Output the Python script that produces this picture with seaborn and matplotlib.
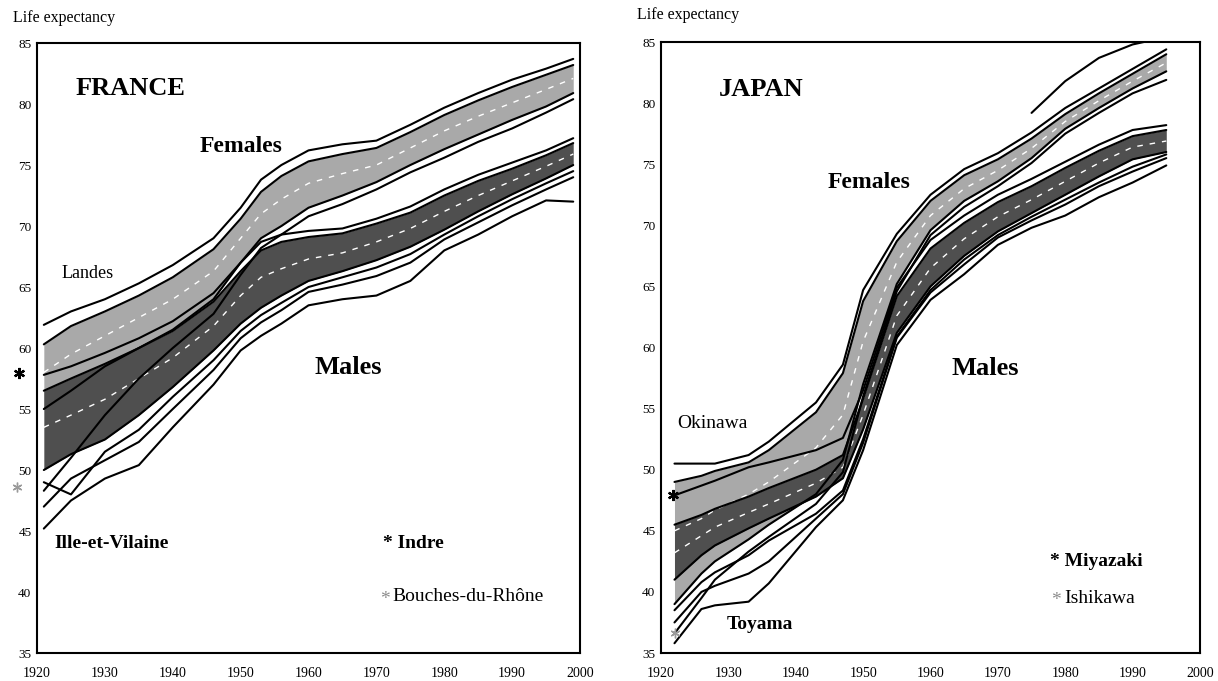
import pandas as pd
import matplotlib
matplotlib.use("Agg")
import matplotlib.pyplot as plt
import seaborn as sns

# ---------------- France: départements, period life expectancy ----------------
years_fr = [1921, 1925, 1930, 1935, 1940, 1946, 1950, 1953, 1956, 1960,
            1965, 1970, 1975, 1980, 1985, 1990, 1995, 1999]
# females
fr_f_top = [61.9, 63.0, 64.0, 65.3, 66.8, 69.0, 71.5, 73.8, 75.0, 76.2,
            76.7, 77.0, 78.3, 79.7, 80.9, 82.0, 82.9, 83.7]   # Landes
fr_f_hi = [60.3, 61.8, 63.0, 64.3, 65.8, 68.1, 70.6, 72.8, 74.1, 75.3,
           75.9, 76.4, 77.7, 79.1, 80.3, 81.4, 82.4, 83.2]
fr_f_mid = [58.0, 59.5, 61.0, 62.5, 64.0, 66.3, 69.0, 71.0, 72.2, 73.5,
            74.3, 75.0, 76.4, 77.8, 79.0, 80.1, 81.2, 82.1]
fr_f_lo = [55.0, 56.5, 58.5, 60.0, 61.5, 64.0, 67.0, 69.0, 70.0, 71.5,
           72.5, 73.6, 75.0, 76.3, 77.5, 78.7, 79.8, 80.9]
fr_f_bot = [48.3, 51.0, 54.5, 57.5, 60.0, 62.8, 66.0, 68.2, 69.3, 70.8,
            71.8, 73.0, 74.4, 75.6, 76.9, 78.0, 79.3, 80.4]   # Bouches-du-Rhône
# males
fr_m_top = [57.8, 58.5, 59.6, 60.8, 62.2, 64.5, 67.0, 68.7, 69.3, 69.6,
            69.8, 70.6, 71.6, 73.0, 74.2, 75.2, 76.2, 77.2]   # Indre
fr_m_hi = [56.5, 57.5, 58.7, 60.0, 61.4, 63.8, 66.3, 68.0, 68.7, 69.1,
           69.4, 70.2, 71.1, 72.5, 73.7, 74.7, 75.8, 76.8]
fr_m_mid = [53.5, 54.5, 55.8, 57.5, 59.2, 61.8, 64.3, 65.8, 66.5, 67.3,
            67.8, 68.7, 69.8, 71.2, 72.5, 73.7, 74.9, 75.9]
fr_m_lo = [50.0, 51.3, 52.5, 54.5, 56.8, 59.8, 62.0, 63.3, 64.3, 65.5,
           66.3, 67.2, 68.3, 69.7, 71.2, 72.6, 73.9, 75.0]
fr_m_low2 = [49.0, 48.0, 51.5, 53.3, 56.0, 59.0, 61.4, 62.7, 63.7, 65.0,
             65.8, 66.6, 67.7, 69.3, 70.8, 72.2, 73.5, 74.5]
fr_m_low3 = [47.0, 49.3, 50.8, 52.3, 55.0, 58.2, 60.8, 62.1, 63.1, 64.6,
             65.2, 65.9, 67.0, 68.9, 70.3, 71.7, 73.0, 74.0]
fr_m_bot = [45.2, 47.5, 49.3, 50.4, 53.5, 57.0, 59.8, 61.0, 62.0, 63.5,
            64.0, 64.3, 65.5, 68.0, 69.3, 70.8, 72.1, 72.0]   # Ille-et-Vilaine

# ---------------- Japan: prefectures ----------------
years_jp = [1922, 1926, 1928, 1933, 1936, 1943, 1947, 1950, 1955, 1960,
            1965, 1970, 1975, 1980, 1985, 1990, 1995]
# females
jp_f_top = [50.5, 50.5, 50.5, 51.2, 52.3, 55.5, 58.6, 64.7, 69.3, 72.5,
            74.6, 75.9, 77.6, 79.6, 81.2, 82.8, 84.4]
jp_f_hi = [49.0, 49.5, 49.9, 50.6, 51.6, 54.7, 57.9, 63.8, 68.7, 72.0,
           74.1, 75.4, 77.1, 79.1, 80.8, 82.4, 84.0]
jp_f_mid = [45.0, 46.0, 46.7, 48.0, 49.0, 51.8, 54.5, 60.5, 67.0, 70.8,
            73.0, 74.5, 76.3, 78.5, 80.2, 81.8, 83.3]
jp_f_lo = [39.0, 41.5, 42.5, 44.3, 45.5, 48.0, 50.8, 57.0, 65.2, 69.6,
           72.0, 73.6, 75.5, 77.9, 79.6, 81.2, 82.6]
jp_f_bot = [36.6, 39.5, 41.0, 43.3, 44.5, 47.2, 49.8, 56.0, 64.6, 69.2,
            71.5, 73.2, 75.1, 77.5, 79.2, 80.8, 81.9]           # Ishikawa
years_oki = [1975, 1980, 1985, 1990, 1995]
jp_f_okinawa = [79.2, 81.8, 83.7, 84.8, 85.4]
# males
jp_m_top = [47.9, 48.7, 49.1, 50.2, 50.6, 51.6, 52.6, 56.5, 64.9, 68.8,
            70.8, 72.5, 73.8, 75.2, 76.6, 77.8, 78.2]           # Miyazaki
jp_m_hi = [45.5, 46.3, 46.8, 47.8, 48.5, 50.0, 51.2, 55.8, 64.2, 68.1,
           70.2, 71.9, 73.2, 74.7, 76.1, 77.3, 77.8]
jp_m_mid = [43.2, 44.6, 45.3, 46.5, 47.2, 48.9, 50.2, 54.5, 62.6, 66.5,
            68.9, 70.7, 72.1, 73.6, 75.1, 76.4, 76.9]
jp_m_lo = [41.0, 43.0, 43.8, 45.2, 46.0, 47.8, 49.3, 53.3, 61.2, 65.0,
           67.5, 69.5, 71.0, 72.5, 74.0, 75.4, 76.0]
jp_m_low2 = [38.5, 40.8, 41.6, 43.0, 44.2, 46.4, 48.3, 52.5, 60.9, 64.7,
             67.2, 69.2, 70.7, 72.1, 73.5, 74.8, 75.8]
jp_m_low3 = [37.5, 40.0, 40.5, 41.5, 42.5, 46.0, 48.0, 52.2, 60.8, 64.5,
             66.8, 69.0, 70.4, 71.7, 73.2, 74.4, 75.5]
jp_m_bot = [35.8, 38.6, 38.9, 39.2, 40.7, 45.3, 47.5, 51.6, 60.2, 63.9,
            66.0, 68.4, 69.8, 70.8, 72.3, 73.5, 74.9]           # Toyama

x_ticks = [1920, 1930, 1940, 1950, 1960, 1970, 1980, 1990, 2000]
y_ticks = [35, 40, 45, 50, 55, 60, 65, 70, 75, 80, 85]

FEMALE_GREY = "#a9a9a9"
MALE_GREY = "#4f4f4f"

sns.set_theme(style="white")
plt.rcParams["font.family"] = ["Liberation Serif", "DejaVu Serif"]
plt.rcParams["axes.linewidth"] = 1.5
for key in ("text.color", "axes.labelcolor", "xtick.color", "ytick.color",
            "axes.edgecolor"):
    plt.rcParams[key] = "black"


def long_frame(years, series):
    rows = []
    for name, vals in series.items():
        for yr, v in zip(years, vals):
            rows.append({"year": yr, "e0": v, "series": name})
    return pd.DataFrame(rows)


def draw_band(ax, years, top, hi, mid, lo, bot, extra, fill):
    ax.fill_between(years, lo, hi, color=fill, lw=0, zorder=1)
    return long_frame(years, dict(top=top, hi=hi, lo=lo, bot=bot, **extra)), \
        long_frame(years, dict(mid=mid))


def panel(ax, years, fem, mal, extra_lines=None):
    f_lines, f_mid = draw_band(ax, years, *fem[:5], fem[5], FEMALE_GREY)
    m_lines, m_mid = draw_band(ax, years, *mal[:5], mal[5], MALE_GREY)
    for mids in (f_mid, m_mid):
        sns.lineplot(data=mids, x="year", y="e0", units="series", estimator=None,
                     color="white", lw=1.0, ax=ax, zorder=2,
                     legend=False).lines[-1].set_dashes([4, 5])
    for lines in (f_lines, m_lines):
        sns.lineplot(data=lines, x="year", y="e0", units="series", estimator=None,
                     color="black", lw=1.5, ax=ax, zorder=3, legend=False)
    if extra_lines is not None:
        sns.lineplot(data=extra_lines, x="year", y="e0", units="series",
                     estimator=None, color="black", lw=1.5, ax=ax, zorder=3,
                     legend=False)


def style_axes(ax):
    ax.set_xlim(1920, 2000)
    ax.set_ylim(35, 85)
    ax.set_xticks(x_ticks)
    ax.set_yticks(y_ticks)
    ax.set_xticklabels([str(t) for t in x_ticks], fontsize=10)
    ax.set_yticklabels([str(t) for t in y_ticks], fontsize=9.5)
    ax.tick_params(axis="both", direction="in", length=3, width=1.2,
                   colors="black", labelcolor="black")
    ax.tick_params(axis="x", pad=10)
    ax.tick_params(axis="y", pad=4)
    for sp in ax.spines.values():
        sp.set_color("black")
        sp.set_linewidth(1.5)
    ax.set_xlabel("")
    ax.set_ylabel("")


fig = plt.figure(figsize=(12.18, 6.81), dpi=100)
ax_fr = fig.add_axes([0.0304, 0.0411, 0.4458, 0.8957])
ax_jp = fig.add_axes([0.5427, 0.0411, 0.4425, 0.8972])

# France
panel(ax_fr, years_fr,
      (fr_f_top, fr_f_hi, fr_f_mid, fr_f_lo, fr_f_bot, {}),
      (fr_m_top, fr_m_hi, fr_m_mid, fr_m_lo, fr_m_bot,
       dict(low2=fr_m_low2, low3=fr_m_low3)))
style_axes(ax_fr)

# Japan
oki = pd.DataFrame({"year": years_oki, "e0": jp_f_okinawa, "series": "Okinawa"})
panel(ax_jp, years_jp,
      (jp_f_top, jp_f_hi, jp_f_mid, jp_f_lo, jp_f_bot, {}),
      (jp_m_top, jp_m_hi, jp_m_mid, jp_m_lo, jp_m_bot,
       dict(low2=jp_m_low2, low3=jp_m_low3)),
      extra_lines=oki)
style_axes(ax_jp)

# ---- annotations ----
bold = dict(fontweight="bold", color="black")
plain = dict(color="black")
ax_fr.text(1933.7, 81.3, "FRANCE", fontsize=19, ha="center", va="center", **bold)
ax_fr.text(1950.0, 76.5, "Females", fontsize=17, ha="center", va="center", **bold)
ax_fr.text(1965.8, 58.4, "Males", fontsize=19, ha="center", va="center", **bold)
ax_fr.text(1927.5, 66.1, "Landes", fontsize=13, ha="center", va="center", **plain)
ax_fr.text(1931.0, 44.0, "Ille-et-Vilaine", fontsize=14, ha="center", va="center", **bold)
ax_fr.text(1971.0, 44.0, "* Indre", fontsize=14, ha="left", va="center", **bold)
ax_fr.text(1970.5, 39.4, "*", fontsize=14, ha="left", va="center", color="#8c8c8c")
ax_fr.text(1972.3, 39.6, "Bouches-du-Rhône", fontsize=14, ha="left", va="center", **plain)
ax_fr.plot([1917.3], [57.95], marker=(6, 2, 0), ms=8, mew=1.6, color="black",
           clip_on=False, zorder=5)
ax_fr.plot([1917.0], [48.6], marker=(6, 2, 0), ms=7, mew=1.0, color="#9a9a9a",
           clip_on=False, zorder=5)

ax_jp.text(1934.8, 81.1, "JAPAN", fontsize=19, ha="center", va="center", **bold)
ax_jp.text(1950.9, 73.5, "Females", fontsize=17, ha="center", va="center", **bold)
ax_jp.text(1968.2, 58.3, "Males", fontsize=19, ha="center", va="center", **bold)
ax_jp.text(1927.6, 53.8, "Okinawa", fontsize=14, ha="center", va="center", **plain)
ax_jp.text(1934.7, 37.3, "Toyama", fontsize=14, ha="center", va="center", **bold)
ax_jp.text(1977.7, 42.45, "* Miyazaki", fontsize=14, ha="left", va="center", **bold)
ax_jp.text(1977.9, 39.3, "*", fontsize=14, ha="left", va="center", color="#8c8c8c")
ax_jp.text(1979.9, 39.5, "Ishikawa", fontsize=14, ha="left", va="center", **plain)
ax_jp.plot([1921.8], [47.9], marker=(6, 2, 0), ms=8, mew=1.6, color="black",
           clip_on=False, zorder=5)
ax_jp.plot([1922.1], [36.6], marker=(6, 2, 0), ms=7, mew=1.0, color="#9a9a9a",
           clip_on=False, zorder=5)

fig.text(13 / 1218, 1 - 18 / 681, "Life expectancy", fontsize=11.5,
         ha="left", va="center", color="black")
fig.text(637 / 1218, 1 - 15 / 681, "Life expectancy", fontsize=11.5,
         ha="left", va="center", color="black")

fig.savefig("out.png", dpi=100)
